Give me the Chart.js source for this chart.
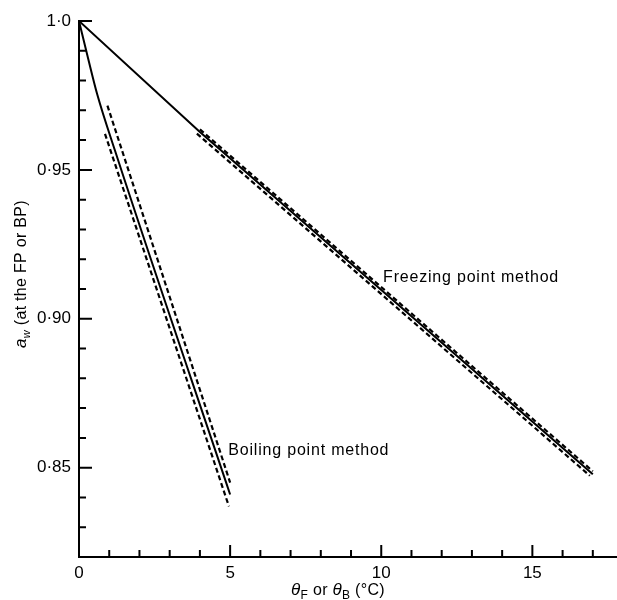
<!DOCTYPE html>
<html>
<head>
<meta charset="utf-8">
<script src="https://cdn.jsdelivr.net/npm/chart.js@4.4.1/dist/chart.umd.min.js"></script>
<style>
  html, body { margin: 0; padding: 0; background: #fff; }
  #wrap { width: 617px; height: 600px; position: relative; }
</style>
</head>
<body>
<div id="wrap"><canvas id="c" width="617" height="600"></canvas></div>
<script>
// ---- data ----
const bpSolidT  = [0, 0.3, 0.6, 1.19, 5.0];
const bpSolidAw = [1.0, 0.9875, 0.9755, 0.9565, 0.841];
const bpUpperT  = [0.94, 5.0];
const bpUpperAw = [0.9716, 0.845];
const bpLowerT  = [0.86, 4.96];
const bpLowerAw = [0.9621, 0.837];

const fpSolidT  = [0, 4.0, 17.0];
const fpSolidAw = [1.0, 0.9627, 0.8478];
const fpUpperT  = [4.0, 17.0];
const fpUpperAw = [0.9636, 0.8488];
const fpLowerT  = [3.9, 16.9];
const fpLowerAw = [0.9622, 0.8473];

const xMajorTicks = [0, 5, 10, 15];
const xTickLabels = ['0', '5', '10', '15'];
const xMinorTicks = [1, 2, 3, 4, 6, 7, 8, 9, 11, 12, 13, 14, 16, 17];
const yMajorTicks = [0.85, 0.90, 0.95, 1.0];
const yTickLabels = ['0·85', '0·90', '0·95', '1·0'];
const yMinorTicks = [0.83, 0.84, 0.86, 0.87, 0.88, 0.89, 0.91, 0.92, 0.93, 0.94, 0.96, 0.97, 0.98, 0.99];

const curveLabels = [
  { text: 'Freezing point method', t: 10.06, aw: 0.9123 },
  { text: 'Boiling point method',  t: 4.94,  aw: 0.8542 }
];

const FONT = '"Liberation Sans", Arial, sans-serif';

function pts(xs, ys) { return xs.map((x, i) => ({ x: x, y: ys[i] })); }

function solid(xs, ys, smooth) {
  const d = { data: pts(xs, ys), borderColor: '#000', borderWidth: 2, pointRadius: 0, tension: 0, fill: false };
  if (smooth) d.cubicInterpolationMode = 'monotone';
  return d;
}
function dashed(xs, ys) {
  return { data: pts(xs, ys), borderColor: '#000', borderWidth: 2.2, borderDash: [5, 3], pointRadius: 0, tension: 0, fill: false };
}

const decorPlugin = {
  id: 'decor',
  afterDraw(chart) {
    const ctx = chart.ctx;
    const xs = chart.scales.x, ys = chart.scales.y;
    const a = chart.chartArea;
    ctx.save();
    ctx.strokeStyle = '#000';
    ctx.lineWidth = 2;
    ctx.beginPath();
    xMajorTicks.forEach(v => { const p = xs.getPixelForValue(v); ctx.moveTo(p, a.bottom); ctx.lineTo(p, a.bottom - 12); });
    xMinorTicks.forEach(v => { const p = xs.getPixelForValue(v); ctx.moveTo(p, a.bottom); ctx.lineTo(p, a.bottom - 7); });
    yMajorTicks.forEach(v => { const p = ys.getPixelForValue(v); ctx.moveTo(a.left, p); ctx.lineTo(a.left + 13, p); });
    yMinorTicks.forEach(v => { const p = ys.getPixelForValue(v); ctx.moveTo(a.left, p); ctx.lineTo(a.left + 7, p); });
    ctx.stroke();

    ctx.fillStyle = '#000';
    ctx.font = '16px ' + FONT;
    ctx.textAlign = 'left';
    ctx.textBaseline = 'alphabetic';
    try { ctx.letterSpacing = '0.8px'; } catch (e) {}
    curveLabels.forEach(l => {
      ctx.fillText(l.text, xs.getPixelForValue(l.t), ys.getPixelForValue(l.aw));
    });
    try { ctx.letterSpacing = '0.3px'; } catch (e) {}

    const parts = [
      { s: 'θ', f: 'italic 17px ' + FONT, dy: 0 },
      { s: 'F', f: '12px ' + FONT, dy: 4 },
      { s: ' or ', f: '16px ' + FONT, dy: 0 },
      { s: 'θ', f: 'italic 17px ' + FONT, dy: 0 },
      { s: 'B', f: '12px ' + FONT, dy: 4 },
      { s: ' (°C)', f: '16px ' + FONT, dy: 0 }
    ];
    function drawParts(list, cx, baseY) {
      let w = 0;
      list.forEach(p => { ctx.font = p.f; p.w = ctx.measureText(p.s).width; w += p.w; });
      let x = cx - w / 2;
      list.forEach(p => { ctx.font = p.f; ctx.fillText(p.s, x, baseY + p.dy); x += p.w; });
    }
    drawParts(parts, 338, 595);

    ctx.save();
    ctx.translate(26, 274);
    ctx.rotate(-Math.PI / 2);
    const yparts = [
      { s: 'a', f: 'italic 17px ' + FONT, dy: 0 },
      { s: 'w', f: 'italic 11px ' + FONT, dy: 4 },
      { s: ' (at the FP or BP)', f: '16px ' + FONT, dy: 0 }
    ];
    drawParts(yparts, 0, 0);
    ctx.restore();
    ctx.restore();
  }
};

new Chart(document.getElementById('c'), {
  type: 'line',
  data: {
    datasets: [
      solid(bpSolidT, bpSolidAw, true),
      dashed(bpUpperT, bpUpperAw),
      dashed(bpLowerT, bpLowerAw),
      solid(fpSolidT, fpSolidAw, false),
      dashed(fpUpperT, fpUpperAw),
      dashed(fpLowerT, fpLowerAw)
    ]
  },
  options: {
    responsive: false,
    animation: false,
    devicePixelRatio: 1,
    layout: { padding: { top: 21, right: 0, left: 0, bottom: 0 } },
    plugins: { legend: { display: false }, tooltip: { enabled: false } },
    scales: {
      x: {
        type: 'linear', min: 0, max: 17.8,
        border: { display: true, color: '#000', width: 2 },
        grid: { display: false, drawTicks: false },
        afterBuildTicks: s => { s.ticks = xMajorTicks.map(v => ({ value: v })); },
        afterFit: s => { s.height = 43; },
        ticks: {
          padding: 6, color: '#000', font: { family: FONT, size: 17 },
          maxRotation: 0, autoSkip: false,
          callback: v => { const i = xMajorTicks.indexOf(v); return i >= 0 ? xTickLabels[i] : ''; }
        }
      },
      y: {
        type: 'linear', min: 0.82, max: 1.0,
        border: { display: true, color: '#000', width: 2 },
        grid: { display: false, drawTicks: false },
        afterBuildTicks: s => { s.ticks = yMajorTicks.map(v => ({ value: v })); },
        afterFit: s => { s.width = 79; },
        ticks: {
          padding: 8, color: '#000', font: { family: FONT, size: 17 },
          autoSkip: false,
          callback: v => { const i = yMajorTicks.findIndex(t => Math.abs(t - v) < 1e-9); return i >= 0 ? yTickLabels[i] : ''; }
        }
      }
    }
  },
  plugins: [decorPlugin]
});
</script>
</body>
</html>
